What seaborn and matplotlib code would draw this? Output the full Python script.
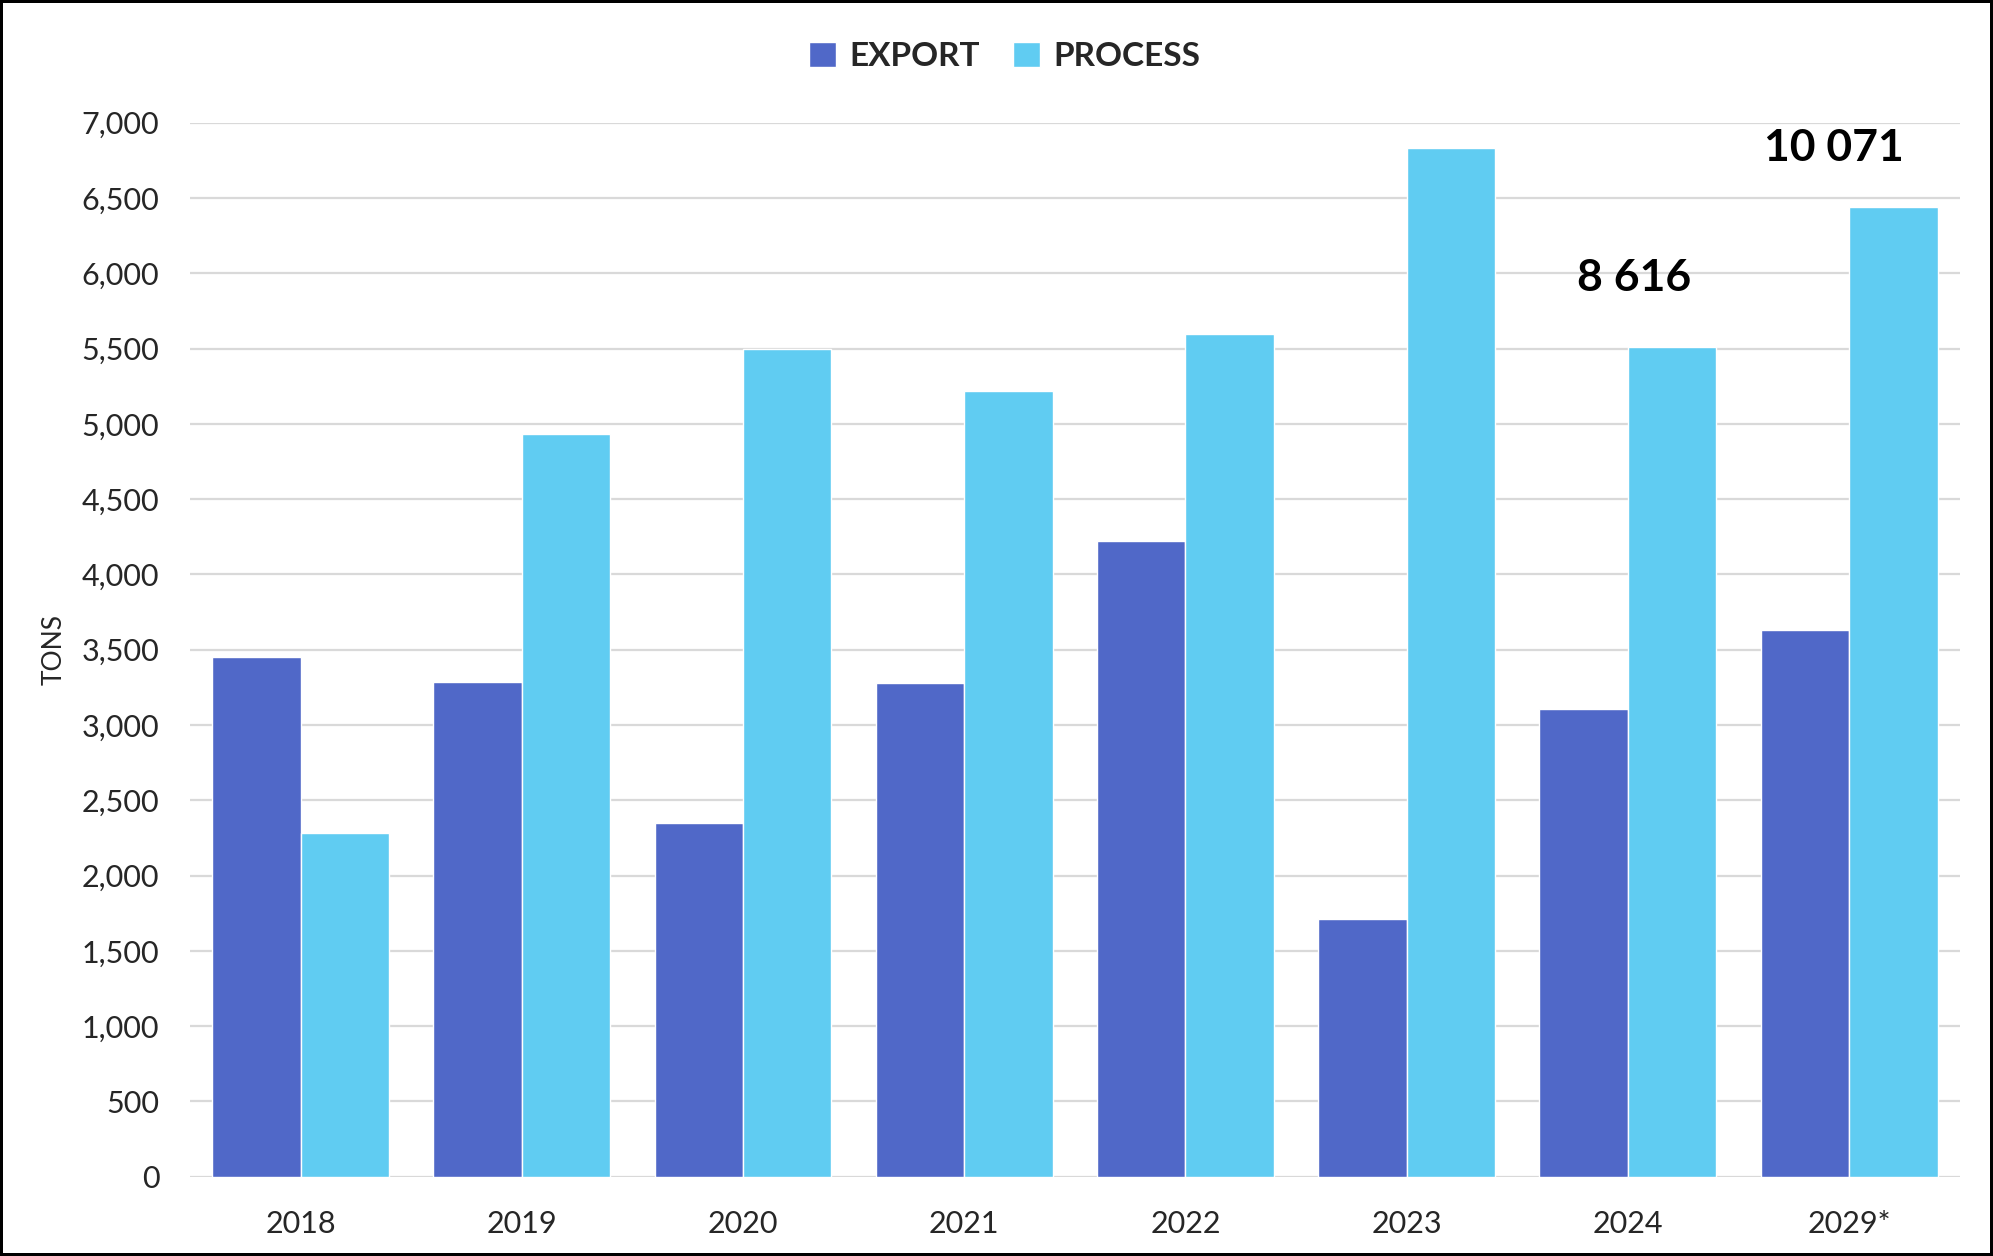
import pandas as pd
import seaborn as sns
import matplotlib.pyplot as plt
from matplotlib.ticker import FuncFormatter, MultipleLocator

sns.set_style('white')
plt.rcParams['font.family'] = ['Lato', 'DejaVu Sans']

# Data
years = ['2018', '2019', '2020', '2021', '2022', '2023', '2024', '2029*']
export = [3450, 3285, 2350, 3280, 4225, 1710, 3106, 3630]
process = [2280, 4935, 5500, 5220, 5595, 6830, 5510, 6441]
totals = {'2024': '8 616', '2029*': '10 071'}

df = pd.DataFrame({'Year': years * 2,
                   'Tons': export + process,
                   'Type': ['EXPORT'] * len(years) + ['PROCESS'] * len(years)})

fig = plt.figure(figsize=(19.93, 12.56), dpi=100)
fig.patch.set_edgecolor('black')
fig.patch.set_linewidth(3)
ax = fig.add_axes([0.0953, 0.0632, 0.888, 0.8391])

sns.barplot(data=df, x='Year', y='Tons', hue='Type',
            palette=['#5068C8', '#60CCF2'], saturation=1,
            width=0.8, ax=ax, zorder=3)

ax.set_ylim(0, 7000)
ax.set_xlim(-0.5, len(years) - 0.5)
ax.yaxis.set_major_locator(MultipleLocator(500))
ax.yaxis.set_major_formatter(FuncFormatter(lambda v, p: f'{int(v):,}'))
ax.grid(axis='y', color='#D9D9D9', linewidth=1.6, zorder=0)
ax.set_axisbelow(True)
for s in ax.spines.values():
    s.set_visible(False)
ax.tick_params(axis='both', length=0, labelsize=22)
ax.tick_params(axis='x', pad=24)
ax.tick_params(axis='y', pad=22)
ax.set_xlabel('')
ax.set_ylabel('TONS', fontsize=19)
ax.yaxis.set_label_coords(-0.0695, 0.5)

# Totals above the last two groups
shift = {'2024': 0.03, '2029*': -0.07}
lift = {'2024': 460, '2029*': 390}
for yr, lbl in totals.items():
    i = years.index(yr)
    ax.text(i + shift[yr], process[i] + lift[yr], lbl, ha='center', va='center',
            fontsize=32, fontweight='bold', color='black')

handles, labels = ax.get_legend_handles_labels()
ax.legend(handles, labels, loc='center', bbox_to_anchor=(0.504, 0.955),
          bbox_transform=fig.transFigure, ncol=2, frameon=False,
          prop={'size': 24, 'weight': 'bold'}, handlelength=0.8,
          handleheight=0.8, handletextpad=0.4, columnspacing=1.0)

fig.savefig('out.png', dpi=100, edgecolor=fig.get_edgecolor())
